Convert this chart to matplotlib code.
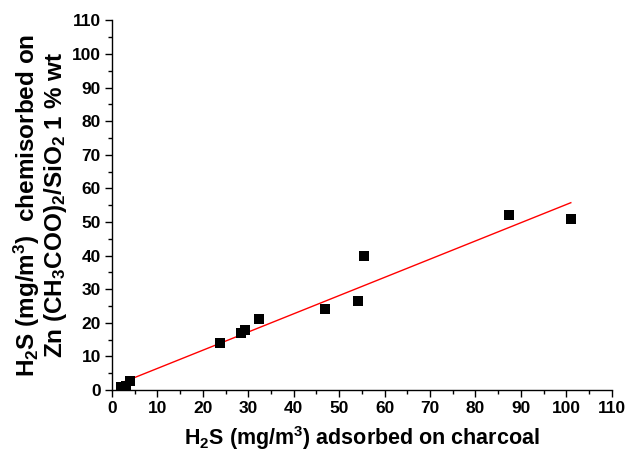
import matplotlib
matplotlib.use("Agg")
import matplotlib.pyplot as plt
import numpy as np
from matplotlib.ticker import MultipleLocator

x_charcoal = [2.0, 3.0, 4.0, 23.7, 28.5, 29.3, 32.3, 46.8, 54.2, 55.5, 87.3, 101.0]
y_chemisorbed = [1.0, 1.3, 2.6, 14.0, 17.0, 17.8, 21.2, 24.2, 26.5, 40.0, 52.0, 51.0]
fit_slope = 0.542
fit_intercept = 1.0
fit_xrange = [2.0, 101.0]

plt.rcParams['font.family'] = ['Liberation Sans', 'DejaVu Sans']
plt.rcParams['font.weight'] = 'bold'
plt.rcParams['mathtext.fontset'] = 'custom'
plt.rcParams['mathtext.rm'] = 'Liberation Sans:bold'
plt.rcParams['mathtext.default'] = 'rm'

fig = plt.figure(figsize=(6.27, 4.54), dpi=100)
ax = fig.add_axes([0.1786, 0.141, 0.797, 0.814])

fx = np.array(fit_xrange)
ax.plot(fx, fit_slope * fx + fit_intercept, color='red', lw=1.0, zorder=2)
ax.scatter(x_charcoal, y_chemisorbed, marker='s', s=55, color='black', zorder=3, linewidths=0)

ax.set_xlim(0, 110)
ax.set_ylim(0, 110)
ax.xaxis.set_major_locator(MultipleLocator(10))
ax.yaxis.set_major_locator(MultipleLocator(10))
ax.xaxis.set_minor_locator(MultipleLocator(5))
ax.yaxis.set_minor_locator(MultipleLocator(5))
ax.spines['top'].set_visible(False)
ax.spines['right'].set_visible(False)
for s in ['left', 'bottom']:
    ax.spines[s].set_linewidth(1.0)
ax.tick_params(which='major', direction='out', length=5, width=1.0, labelsize=12.5, pad=3)
ax.tick_params(which='minor', direction='out', length=3, width=1.0)
for lab in ax.get_xticklabels() + ax.get_yticklabels():
    lab.set_fontweight('bold')

ax.set_xlabel(r'H$_2$S (mg/m$^3$) adsorbed on charcoal', fontsize=15.5, fontweight='bold', labelpad=6)
ax.set_ylabel('H$_2$S (mg/m$^3$)  chemisorbed on\nZn (CH$_3$COO)$_2$/SiO$_2$ 1 % wt',
              fontsize=17.5, fontweight='bold', labelpad=2, linespacing=1.0)

fig.savefig('out.png', dpi=100)
